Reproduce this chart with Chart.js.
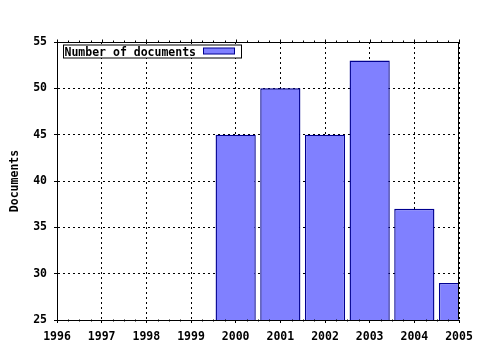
<!DOCTYPE html>
<html><head><meta charset="utf-8">
<script src="https://cdn.jsdelivr.net/npm/chart.js@4/dist/chart.umd.min.js"></script>
<style>html,body{margin:0;padding:0;background:#fff;}canvas{display:block;}</style>
</head><body>
<canvas id="c" width="480" height="350"></canvas>
<script>
// ---- data ----
const years = [2000, 2001, 2002, 2003, 2004, 2005];
const documents = [45, 50, 45, 53, 37, 29];
const seriesLabel = 'Number of documents';
const yAxisTitle = 'Documents';
const xMin = 1996, xMax = 2005, xStep = 1;
const yMin = 25, yMax = 55, yStep = 5;

const FONT = '"DejaVu Sans Mono", "Liberation Mono", monospace';
const BAR_FILL = '#8080ff';
const BAR_EDGE = '#000090';

const framePlugin = {
  id: 'frame',
  afterDraw(chart) {
    const ctx = chart.ctx;
    const a = chart.chartArea;
    const xs = chart.scales.x;
    const L = Math.round(a.left) + 0.5, R = Math.round(a.right) - 0.5;
    const T = Math.round(a.top) + 0.5, B = Math.round(a.bottom) - 0.5;
    ctx.save();
    ctx.strokeStyle = '#000';
    ctx.lineWidth = 1;
    ctx.beginPath();
    ctx.moveTo(L, T); ctx.lineTo(R, T);
    ctx.moveTo(R, T); ctx.lineTo(R, B);
    for (let v = xMin; v <= xMax + 1e-9; v += 0.25) {
      const px = Math.round(xs.getPixelForValue(v)) + 0.5;
      const major = Math.abs(v - Math.round(v)) < 1e-9;
      if (major) {
        ctx.moveTo(px, T); ctx.lineTo(px, T - 3);
      } else {
        ctx.moveTo(px, T); ctx.lineTo(px, T - 2);
        ctx.moveTo(px, B); ctx.lineTo(px, B + 2);
      }
    }
    ctx.stroke();

    // legend
    const label = chart.data.datasets[0].label;
    ctx.font = 'bold 11.5px ' + FONT;
    const tw = ctx.measureText(label).width;
    const bx = L + 6, by = T + 2.5;
    const tx = bx + 1;
    const sx = Math.round(tx + tw + 7) + 0.5;
    const sw = 31;
    const bw = Math.round(sx + sw + 7 - bx);
    const bh = 13;
    ctx.fillStyle = '#fff';
    ctx.fillRect(bx, by, bw, bh);
    ctx.strokeRect(bx, by, bw, bh);
    ctx.fillStyle = '#000';
    ctx.textBaseline = 'alphabetic';
    ctx.textAlign = 'left';
    ctx.fillText(label, tx, by + 10.5);
    ctx.fillStyle = BAR_FILL;
    ctx.fillRect(sx, by + 3, sw, 6);
    ctx.strokeStyle = BAR_EDGE;
    ctx.strokeRect(sx, by + 3, sw, 6);
    ctx.restore();
  }
};

new Chart(document.getElementById('c'), {
  type: 'bar',
  data: {
    datasets: [{
      label: seriesLabel,
      data: years.map((y, i) => ({ x: y, y: documents[i] })),
      backgroundColor: BAR_FILL,
      borderColor: BAR_EDGE,
      borderWidth: 1.4,
      barPercentage: 0.9,
      categoryPercentage: 1.0
    }]
  },
  options: {
    responsive: false,
    animation: false,
    devicePixelRatio: 1,
    layout: { padding: { top: 42, right: 21, left: 0, bottom: 0 } },
    plugins: { legend: { display: false }, tooltip: { enabled: false } },
    scales: {
      x: {
        type: 'linear',
        min: xMin, max: xMax,
        offset: false,
        grid: { offset: false, color: '#000', lineWidth: 1, tickLength: 3, tickColor: '#000' },
        border: { display: true, color: '#000', width: 1, dash: [2, 3] },
        ticks: {
          stepSize: xStep, padding: 7, color: '#000', maxRotation: 0, autoSkip: false,
          font: { family: FONT, size: 11.5, weight: 'bold' },
          callback: v => String(v)
        },
        afterFit(s) { s.height = 30; }
      },
      y: {
        min: yMin, max: yMax,
        grid: { color: '#000', lineWidth: 1, tickLength: 3, tickColor: '#000' },
        border: { display: true, color: '#000', width: 1, dash: [2, 3] },
        ticks: {
          stepSize: yStep, padding: 7, color: '#000',
          font: { family: FONT, size: 11.5, weight: 'bold' }
        },
        title: {
          display: true, text: yAxisTitle, color: '#000',
          font: { family: FONT, size: 11.5, weight: 'bold' },
          padding: { top: 8, bottom: 0 }
        },
        afterFit(s) { s.width = 57; }
      }
    }
  },
  plugins: [framePlugin]
});
</script>
</body></html>
